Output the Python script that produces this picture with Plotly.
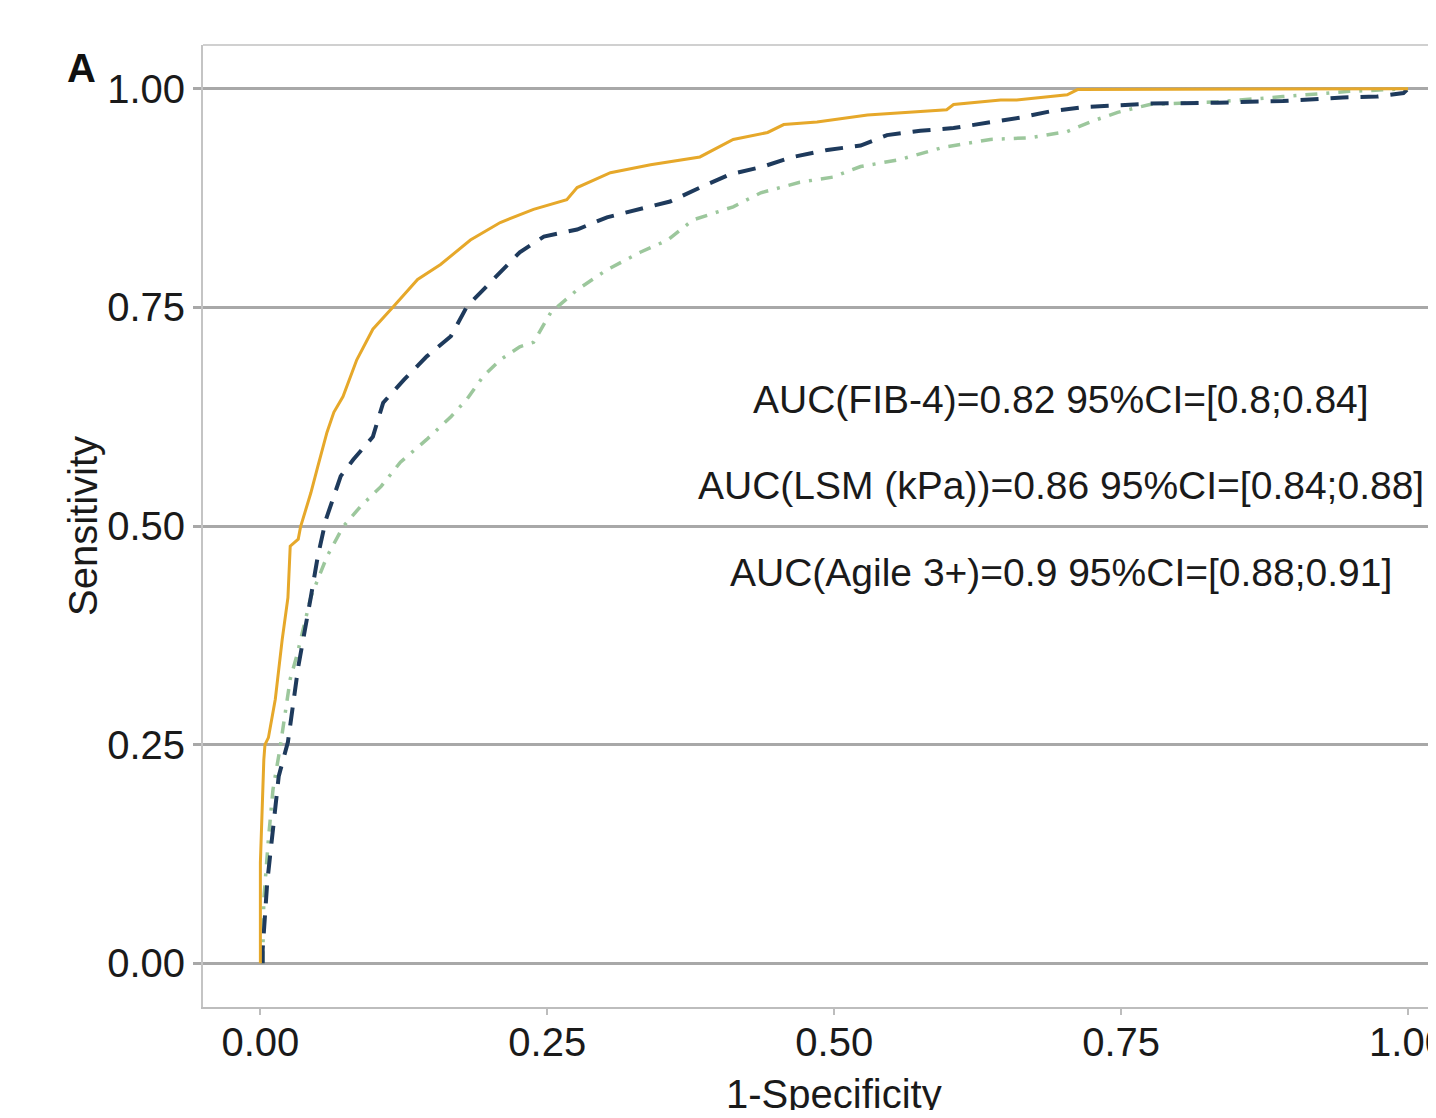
import plotly.graph_objects as go

# --- Data ---
agile_fpr = [0, 0, 0.003, 0.004, 0.007, 0.013, 0.019, 0.024, 0.026, 0.033, 0.035, 0.044, 0.050, 0.058,
             0.064, 0.072, 0.084, 0.098, 0.116, 0.137, 0.157, 0.183, 0.209, 0.238, 0.267, 0.276, 0.305,
             0.340, 0.383, 0.412, 0.442, 0.456, 0.485, 0.529, 0.598, 0.604, 0.645, 0.659, 0.703, 0.712, 1.0]
agile_tpr = [0, 0.115, 0.233, 0.250, 0.258, 0.302, 0.37, 0.418, 0.477, 0.485, 0.499, 0.538, 0.568, 0.607,
             0.630, 0.648, 0.690, 0.725, 0.751, 0.782, 0.799, 0.827, 0.847, 0.862, 0.873, 0.887, 0.904,
             0.913, 0.922, 0.942, 0.950, 0.959, 0.962, 0.970, 0.976, 0.982, 0.987, 0.987, 0.993, 0.999, 1.0]

lsm_fpr = [0.002, 0.002, 0.006, 0.010, 0.013, 0.016, 0.024, 0.028, 0.033, 0.044, 0.050, 0.057, 0.064,
           0.070, 0.081, 0.098, 0.107, 0.125, 0.145, 0.166, 0.180, 0.203, 0.226, 0.247, 0.276, 0.302,
           0.328, 0.357, 0.383, 0.409, 0.438, 0.464, 0.494, 0.523, 0.546, 0.575, 0.604, 0.633, 0.662,
           0.688, 0.717, 0.747, 0.775, 0.834, 0.891, 0.943, 0.973, 0.996, 1.0]
lsm_tpr = [0, 0.016, 0.093, 0.145, 0.173, 0.214, 0.253, 0.294, 0.339, 0.419, 0.465, 0.507, 0.534,
           0.557, 0.576, 0.602, 0.641, 0.667, 0.694, 0.717, 0.751, 0.782, 0.813, 0.831, 0.839, 0.853,
           0.862, 0.871, 0.887, 0.902, 0.911, 0.922, 0.930, 0.935, 0.947, 0.952, 0.955, 0.961, 0.967,
           0.974, 0.979, 0.981, 0.983, 0.984, 0.986, 0.990, 0.991, 0.995, 1.0]

fib4_fpr = [0.002, 0.003, 0.007, 0.011, 0.017, 0.026, 0.032, 0.044, 0.058, 0.072, 0.087, 0.105, 0.122,
            0.145, 0.166, 0.180, 0.194, 0.209, 0.226, 0.238, 0.253, 0.276, 0.302, 0.331, 0.355, 0.377,
            0.412, 0.436, 0.470, 0.499, 0.523, 0.557, 0.595, 0.636, 0.671, 0.703, 0.723, 0.747, 0.775,
            0.834, 0.891, 0.949, 1.0]
fib4_tpr = [0, 0.073, 0.142, 0.199, 0.245, 0.325, 0.353, 0.419, 0.465, 0.499, 0.522, 0.545, 0.573,
            0.599, 0.625, 0.645, 0.671, 0.690, 0.705, 0.710, 0.744, 0.770, 0.793, 0.813, 0.827, 0.850,
            0.865, 0.881, 0.893, 0.899, 0.911, 0.919, 0.933, 0.942, 0.944, 0.951, 0.962, 0.973, 0.982,
            0.985, 0.991, 0.997, 1.0]

auc_labels = ["AUC(FIB-4)=0.82 95%CI=[0.8;0.84]",
              "AUC(LSM (kPa))=0.86 95%CI=[0.84;0.88]",
              "AUC(Agile 3+)=0.9 95%CI=[0.88;0.91]"]
label_y = [0.645, 0.546, 0.447]

tick_vals = [0, 0.25, 0.5, 0.75, 1.0]
tick_text = ["0.00", "0.25", "0.50", "0.75", "1.00"]

FONT = "Liberation Sans, Arial, sans-serif"
GOLD = "#E6A82A"
NAVY = "#1E3A5C"
GREEN = "#9CC79C"

fig = go.Figure()
fig.add_trace(go.Scatter(x=fib4_fpr, y=fib4_tpr, mode="lines",
                         line=dict(color=GREEN, width=3.5, dash="12px,9px,3px,9px"), name="FIB-4"))
fig.add_trace(go.Scatter(x=lsm_fpr, y=lsm_tpr, mode="lines",
                         line=dict(color=NAVY, width=4, dash="18px,12px"), name="LSM (kPa)"))
fig.add_trace(go.Scatter(x=agile_fpr, y=agile_tpr, mode="lines",
                         line=dict(color=GOLD, width=3), name="Agile 3+"))

for txt, yy in zip(auc_labels, label_y):
    fig.add_annotation(x=0.698, y=yy, xref="x", yref="y", text=txt, showarrow=False,
                       font=dict(family=FONT, size=39, color="#1a1a1a"), xanchor="center", yanchor="middle")

# axis titles and panel tag
fig.add_annotation(x=0.5, y=-0.09, xref="x", yref="paper", text="1-Specificity", showarrow=False,
                   font=dict(family=FONT, size=40, color="#1a1a1a"), xanchor="center", yanchor="middle")
fig.add_annotation(x=-0.098, y=0.5, xref="paper", yref="paper", text="Sensitivity", showarrow=False,
                   textangle=-90, font=dict(family=FONT, size=40, color="#1a1a1a"),
                   xanchor="center", yanchor="middle")
fig.add_annotation(x=-0.099, y=0.976, xref="paper", yref="paper", text="<b>A</b>", showarrow=False,
                   font=dict(family=FONT, size=40, color="#111111"), xanchor="center", yanchor="middle")

# top border of panel
fig.add_shape(type="line", xref="paper", yref="paper", x0=0, x1=1, y0=1, y1=1,
              line=dict(color="#d0d0d0", width=2))

fig.update_layout(
    width=1420, height=1102,
    margin=dict(l=195, r=0, t=37, b=103, autoexpand=False),
    paper_bgcolor="white", plot_bgcolor="white",
    showlegend=False,
    xaxis=dict(range=[-0.05, 1.0174], tickvals=tick_vals, ticktext=tick_text, automargin=False,
               showgrid=False, zeroline=False, showline=True, linecolor="#bdbdbd", linewidth=2,
               ticks="outside", ticklen=6, tickcolor="#bdbdbd", tickwidth=1.5,
               ticklabeloverflow="allow", ticklabelstandoff=-7,
               tickfont=dict(family=FONT, size=40, color="#1a1a1a")),
    yaxis=dict(range=[-0.05, 1.05], tickvals=tick_vals, ticktext=tick_text, automargin=False,
               showgrid=True, gridcolor="#a8a8a8", gridwidth=2.5, zeroline=False,
               showline=True, linecolor="#c4c4c4", linewidth=2,
               ticks="outside", ticklen=8, tickcolor="#a8a8a8", tickwidth=2.5,
               tickfont=dict(family=FONT, size=40, color="#1a1a1a")),
)

fig.write_html("out.html")
